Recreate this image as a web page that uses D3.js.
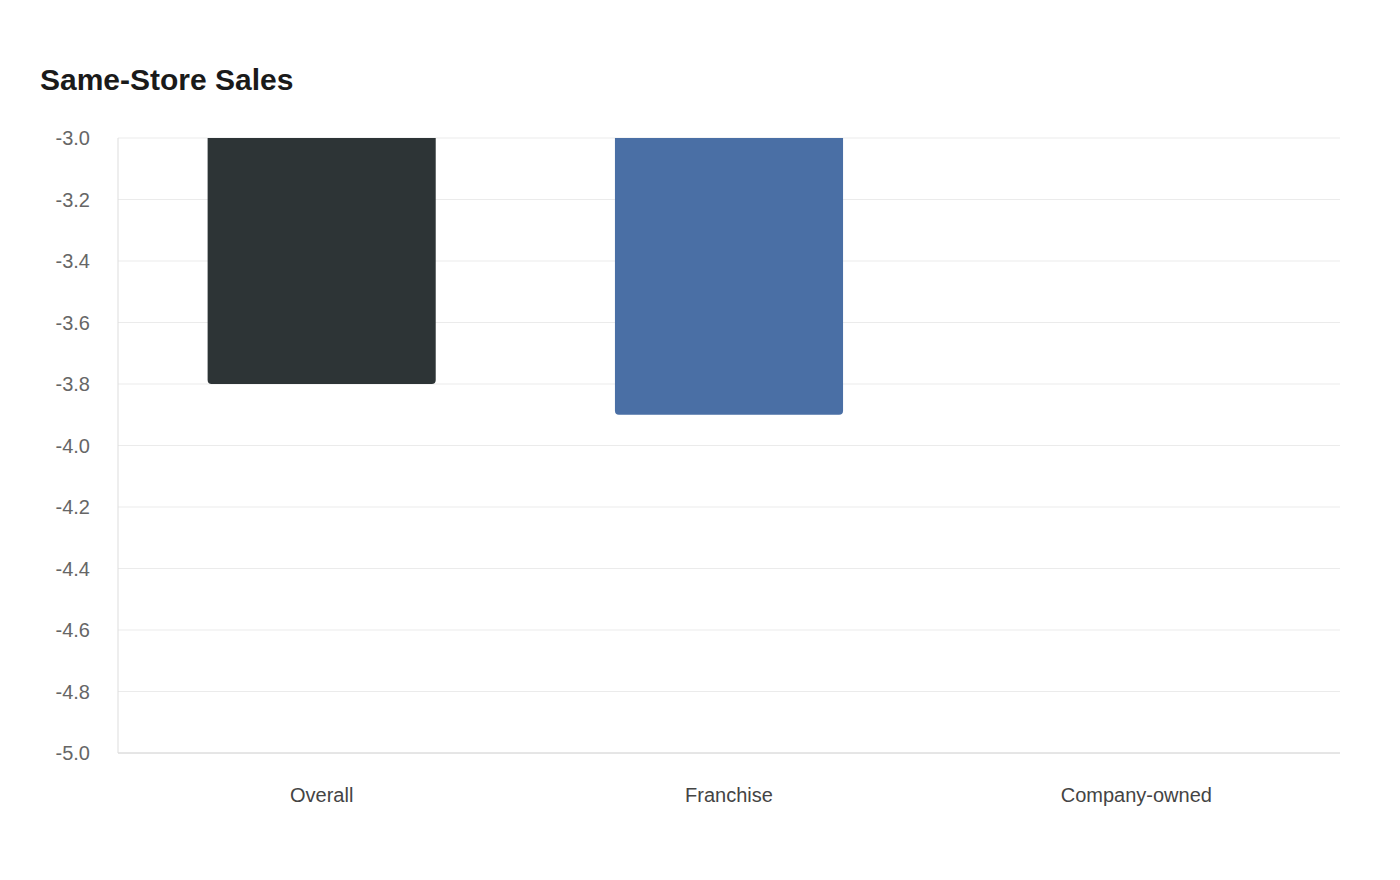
<!DOCTYPE html>
<html><head><meta charset="utf-8">
<script src="https://cdn.jsdelivr.net/npm/d3@7"></script>
<style>body{margin:0;background:#fff;font-family:"Liberation Sans",Arial,sans-serif}</style>
</head><body><svg id="c" width="1400" height="880"></svg>
<script>
const categories = ["Overall", "Franchise", "Company-owned"];
const values = [-3.8, -3.9, null];
const colors = ["#2d3436", "#4a6fa5", "#888888"];
const yTicks = [-3.0, -3.2, -3.4, -3.6, -3.8, -4.0, -4.2, -4.4, -4.6, -4.8, -5.0];

const svg = d3.select("#c");
const L = 118, R = 1340, T = 138, B = 753;
const x = d3.scaleBand().domain(categories).range([L, R]).paddingInner(0.44).paddingOuter(0.22);
const y = d3.scaleLinear().domain([-3.0, -5.0]).range([T, B]);

svg.append("text").attr("x", 40).attr("y", 90).text("Same-Store Sales")
  .attr("font-size", 30).attr("font-weight", "bold").attr("fill", "#1a1a1a");

svg.append("g").selectAll("line").data(yTicks).join("line")
  .attr("x1", L).attr("x2", R).attr("y1", d => y(d)).attr("y2", d => y(d))
  .attr("stroke", d => d === -5.0 ? "#cccccc" : "#ebebeb").attr("stroke-width", 1);
svg.append("line").attr("x1", L).attr("x2", L).attr("y1", T).attr("y2", B).attr("stroke", "#dddddd");

svg.append("g").selectAll("text").data(yTicks).join("text")
  .attr("x", 90).attr("y", d => y(d)).attr("dy", "0.35em").attr("text-anchor", "end")
  .attr("font-size", 20).attr("fill", "#666").text(d => d.toFixed(1));

svg.append("g").selectAll("path").data(categories.map((c, i) => ({c, v: values[i], col: colors[i]})).filter(d => d.v != null))
  .join("path")
  .attr("fill", d => d.col)
  .attr("d", d => {
    const x0 = x(d.c), w = x.bandwidth(), y0 = y(-3.0), y1 = y(d.v), r = 4;
    return `M${x0},${y0}H${x0 + w}V${y1 - r}Q${x0 + w},${y1} ${x0 + w - r},${y1}H${x0 + r}Q${x0},${y1} ${x0},${y1 - r}Z`;
  });

svg.append("g").selectAll("text").data(categories).join("text")
  .attr("x", d => x(d) + x.bandwidth() / 2).attr("y", 802).attr("text-anchor", "middle")
  .attr("font-size", 20).attr("fill", "#444").text(d => d);
</script></body></html>
